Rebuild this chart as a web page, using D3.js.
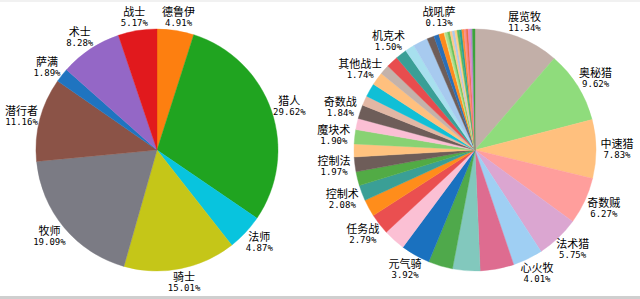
<!DOCTYPE html>
<html><head><meta charset="utf-8">
<script src="https://cdn.jsdelivr.net/npm/d3@7"></script>
<style>html,body{margin:0;padding:0;background:#fff;}svg{display:block;}</style>
</head><body>
<svg id="c" width="640" height="299"></svg>
<script>
// Left pie: classes
const leftNames  = ["德鲁伊","猎人","法师","骑士","牧师","潜行者","萨满","术士","战士"];
const leftValues = [4.91, 29.62, 4.87, 15.01, 19.09, 11.16, 1.89, 8.28, 5.17];
const leftColors = ["#fd7f10","#20a420","#08c4de","#c5c618","#7b7b84","#8b5347","#1f74c0","#9467c6","#e1191d"];

// Right pie: decks (unlabelled slices have empty names)
const rightNames  = ["展览牧","奥秘猎","中速猎","奇数贼","法术猎","心火牧","","","","元气骑","","任务战","","控制术","","控制法","","魔块术","","奇数战","","","其他战士","","","机克术","","","","","","战吼萨","","","","","","","","","","","","",""];
const rightValues = [11.34, 9.62, 7.83, 6.27, 5.75, 4.01, 4.50, 3.67, 3.25, 3.92, 2.94, 2.79, 2.28, 2.08, 1.86, 1.97, 1.72, 1.90, 1.50, 1.84, 1.30, 1.81, 1.74, 1.30, 1.62, 1.50, 1.25, 1.97, 0.95, 0.69, 0.70, 0.13, 0.35, 0.32, 0.30, 0.34, 0.31, 0.30, 0.33, 0.28, 0.30, 0.27, 0.30, 0.26, 0.34];
const rightColors = ["#c2afa8","#8fdc7c","#ffc07e","#ff9e9c","#dba6d1","#9fcff3","#de6c90","#82c8bd","#4fa94b","#1a71bf","#fbc0d4","#ea4f50","#ff8d1b","#3a9f96","#52ab45","#6e5d59","#ffc27f","#88d273","#fbbfd4","#6e5d59","#e2b7a4","#10bfd6","#ffc07e","#c4b2aa","#e84d4e","#3a9f96","#a7e0ee","#a7caef","#6e5d59","#2a6fb8","#ff8a1c","#e6e690","#a8de8e","#6dc25b","#ffc98a","#aec9ec","#ffcf85","#5cb85c","#2aa198","#ff8c30","#f88e8e","#f06a45","#e888c0","#b08ccc","#3ca43c"];

const svg = d3.select("#c");
svg.append("rect").attr("x",0).attr("y",0).attr("width",640).attr("height",299).attr("fill","#fff");
svg.append("rect").attr("x",0).attr("y",0).attr("width",640).attr("height",2).attr("fill","#f1f1f1");
svg.append("rect").attr("x",0).attr("y",296).attr("width",640).attr("height",3).attr("fill","#cfcfcf");

function drawPie(cx, cy, r, rx, ry, names, values, colors) {
  const data = values.map((v,i)=>({name:names[i], value:v, color:colors[i]}));
  const pie = d3.pie().sort(null).value(d=>d.value);
  const arcs = pie(data);
  const arc = d3.arc().innerRadius(0).outerRadius(r);
  const unit = d3.arc().innerRadius(1).outerRadius(1);
  const g = svg.append("g").attr("transform",`translate(${cx},${cy})`);
  g.selectAll("path").data(arcs).join("path")
    .attr("d", arc).attr("fill", d=>d.data.color)
    .attr("stroke", d=>d.data.color).attr("stroke-width",0.4);
  const lg = g.selectAll("g.l").data(arcs.filter(d=>d.data.name)).join("g")
    .attr("class","l")
    .attr("transform", d=>{ const c = unit.centroid(d); return `translate(${c[0]*rx},${c[1]*ry})`; });
  lg.append("text").attr("text-anchor","middle").attr("dominant-baseline","central")
    .attr("y",-6).attr("font-family","'Noto Sans CJK SC', sans-serif").attr("font-size",11)
    .attr("fill","#000").text(d=>d.data.name);
  lg.append("text").attr("text-anchor","middle").attr("dominant-baseline","central")
    .attr("y",6).attr("font-family","'DejaVu Sans Mono', monospace").attr("font-size",9)
    .attr("fill","#000").text(d=>d.data.value.toFixed(2)+"%");
}

drawPie(157, 150, 121, 140, 135, leftNames, leftValues, leftColors);
drawPie(475, 150, 121, 142, 137, rightNames, rightValues, rightColors);
</script>
</body></html>
